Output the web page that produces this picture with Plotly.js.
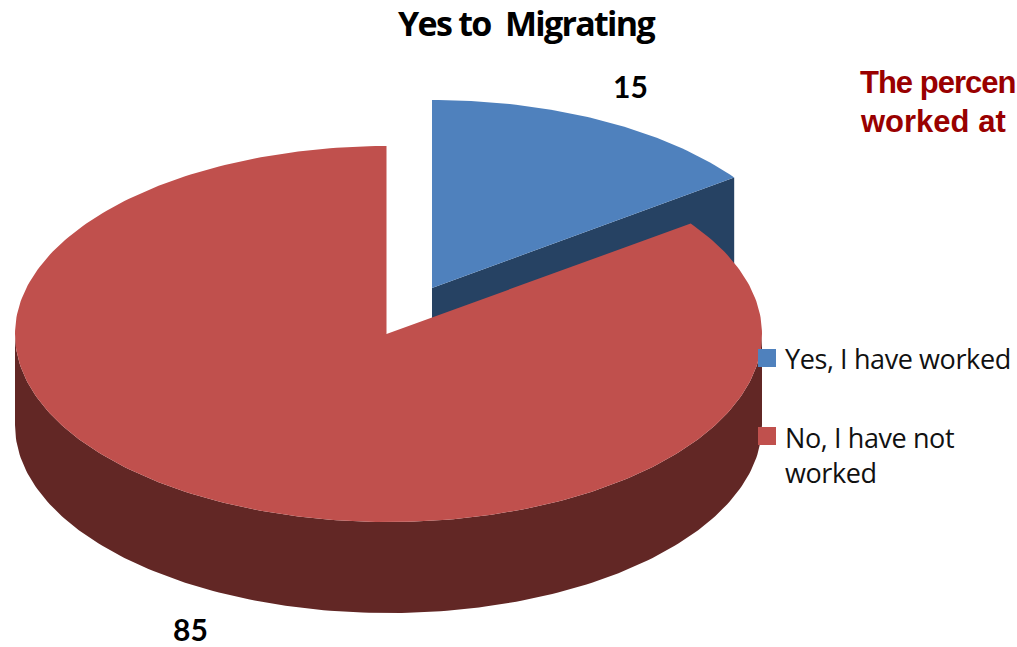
<!DOCTYPE html>
<html>
<head>
<meta charset="utf-8">
<script src="https://cdn.plot.ly/plotly-3.0.1.min.js"></script>
<style>
html,body{margin:0;padding:0;background:#fff;overflow:hidden}
#chart{width:1017px;height:647px}
.gtitle{letter-spacing:-1.7px}
.annotation[data-index="2"] text{letter-spacing:-1px}
.annotation[data-index="4"] text,.annotation[data-index="5"] text{letter-spacing:-0.4px}
</style>
</head>
<body>
<div id="chart"></div>
<script>
// Chart data
const chartTitle = "Yes to  Migrating";
const categories = ["Yes, I have worked", "No, I have not<br>worked"];
const values = [15, 85];
const sideNote = ["The percen", "worked at"];

// Styles and projection of the tilted pie, in the chart's own units
const topColors = ["#4F81BD", "#C0504D"];
const wallColors = ["#264263", "#622725"];
const rx = 373.5, ry = 188, depth = 91;
const apexes = [[432, 288], [386.5, 334]];
const ellipseCenters = [[432, 288], [388.5, 334]];
const legendX = 767, legendY = [358, 436];

const total = values.reduce((a, b) => a + b, 0);
const splitDeg = values[0] / total * 360;

function arc(c, from, to, dy) {
  const xs = [], ys = [];
  const n = Math.max(2, Math.round(Math.abs(to - from)));
  for (let i = 0; i <= n; i++) {
    const a = (from + (to - from) * i / n) * Math.PI / 180;
    xs.push(c[0] + rx * Math.sin(a));
    ys.push(c[1] - ry * Math.cos(a) + dy);
  }
  return [xs, ys];
}
function poly(xs, ys, color, name) {
  return {type: "scatter", mode: "lines", x: xs, y: ys, fill: "toself", fillcolor: color,
          line: {width: 0, color: color}, name: name, hoverinfo: "skip", showlegend: false};
}

// Blue slice: cut face, then top
const blueTop = arc(ellipseCenters[0], 0, splitDeg, 0);
const blueEnd = [blueTop[0][blueTop[0].length - 1], blueTop[1][blueTop[1].length - 1]];
const blueWall = poly(
  [apexes[0][0], blueEnd[0], blueEnd[0], apexes[0][0]],
  [apexes[0][1], blueEnd[1], blueEnd[1] + depth, apexes[0][1] + depth],
  wallColors[0], "wall 0");
const blueFace = poly([apexes[0][0], ...blueTop[0], apexes[0][0]],
                      [apexes[0][1], ...blueTop[1], apexes[0][1]], topColors[0], "top 0");

// Red slice: outer wall, then top (the straight cut edge is vertical at the apex)
const wallUp = arc(ellipseCenters[1], 90, 270, 0);
const wallDown = arc(ellipseCenters[1], 270, 90, depth);
const redWall = poly([...wallUp[0], ...wallDown[0]], [...wallUp[1], ...wallDown[1]], wallColors[1], "wall 1");
const redTop = arc(ellipseCenters[1], splitDeg, 360, 0);
redTop[0][redTop[0].length - 1] = apexes[1][0];
const redFace = poly([apexes[1][0], ...redTop[0], apexes[1][0]],
                     [apexes[1][1], ...redTop[1], apexes[1][1]], topColors[1], "top 1");

// Legend keys
const legendKeys = {
  type: "scatter", mode: "markers", x: [legendX, legendX], y: legendY,
  marker: {symbol: "square", size: 18, color: topColors, line: {width: 0}},
  hoverinfo: "skip", showlegend: false
};

const labelFont = {family: "Lato", size: 30, color: "#000", weight: 700};
const legendFont = {family: "Open Sans", size: 27, color: "#111"};
const noteFont = {family: "Liberation Sans", size: 31, color: "#990000", weight: 700};
function note(text, x, y, font, anchor) {
  return {text: text, x: x, y: y, xref: "x", yref: "y", showarrow: false,
          xanchor: anchor || "left", yanchor: "middle", align: "left", font: font,
          borderpad: 0, borderwidth: 0};
}

const layout = {
  width: 1017, height: 647,
  margin: {l: 0, r: 0, t: 0, b: 0, pad: 0},
  paper_bgcolor: "#fff", plot_bgcolor: "#fff",
  showlegend: false, hovermode: false,
  title: {text: chartTitle, x: 526 / 1017, xanchor: "center", y: 1 - 24 / 647, yanchor: "middle",
          font: {family: "Open Sans", size: 34, color: "#000", weight: 700}},
  xaxis: {range: [0, 1017], visible: false, fixedrange: true},
  yaxis: {range: [647, 0], visible: false, fixedrange: true},
  annotations: [
    note(String(values[0]), 630, 86, labelFont, "center"),
    note(String(values[1]), 190, 628.5, labelFont, "center"),
    note(sideNote[0], 860, 82, noteFont),
    note(sideNote[1], 860, 121, noteFont),
    note(categories[0], 785, 358, legendFont),
    note(categories[1], 785, 455, legendFont)
  ]
};

Plotly.newPlot("chart", [blueWall, blueFace, redWall, redFace, legendKeys], layout,
               {displayModeBar: false, staticPlot: true});
</script>
</body>
</html>
